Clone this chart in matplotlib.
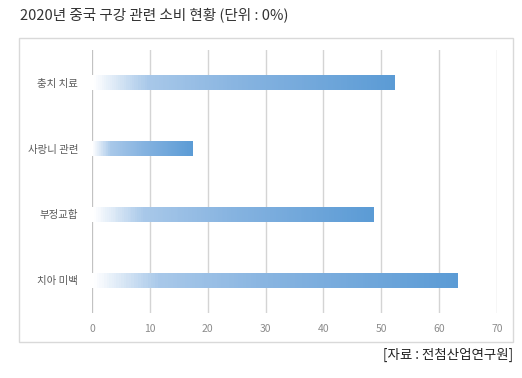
import numpy as np
import matplotlib.pyplot as plt
from matplotlib.colors import LinearSegmentedColormap
from matplotlib.patches import Rectangle

plt.rcParams['font.family'] = ['Noto Sans CJK KR', 'DejaVu Sans']

categories = ['충치 치료', '사랑니 관련', '부정교합', '치아 미백']
values = [52.4, 17.5, 48.7, 63.3]
xticks = [0, 10, 20, 30, 40, 50, 60, 70]

title = '2020년 중국 구강 관련 소비 현황 (단위 : 0%)'
source = '[자료 : 전첨산업연구원]'

fig = plt.figure(figsize=(5.22, 3.78), dpi=100)

# outer frame
fig.patches.append(Rectangle((19 / 522, 1 - 342 / 378), (513 - 19) / 522, (342 - 38) / 378,
                             transform=fig.transFigure, fill=False,
                             edgecolor='#d9d9d9', linewidth=1.0))

ax = fig.add_axes([92 / 522, 1 - 313 / 378, (497 - 92) / 522, (313 - 50) / 378])

cmap = LinearSegmentedColormap.from_list(
    'bar', [(0, '#ffffff'), (0.18, '#a8c8e9'), (0.5, '#86b3e0'), (1, '#5b9bd5')])

# gradient bars built from thin slices
h = 0.23
n = 150
t = np.linspace(0, 1, n)
for i, v in enumerate(values):
    w = v / n
    ax.barh(np.full(n, i), np.full(n, w * 1.05), left=t * (v - w), height=h,
            color=cmap(t), linewidth=0, zorder=3)

ax.set_xlim(0, 70)
ax.set_ylim(3.5, -0.5)
ax.set_xticks(xticks)
ax.set_yticks(range(len(categories)))
ax.set_yticklabels(categories)
ax.set_axisbelow(True)
ax.grid(axis='x', color='#d4d4d4', linewidth=1.0)
ax.axvline(0, color='#bfbfbf', linewidth=1.2, zorder=2)
for s in ax.spines.values():
    s.set_visible(False)
ax.tick_params(axis='both', length=0)
ax.tick_params(axis='x', labelsize=7.5, labelcolor='#8c8c8c', pad=8)
ax.tick_params(axis='y', labelsize=7.5, labelcolor='#595959', pad=10)

fig.text(20 / 522, 1 - 15 / 378, title, fontsize=10.5, color='#333333',
         ha='left', va='center')
fig.text(513 / 522, 1 - 355 / 378, source, fontsize=9.7, color='#222222',
         ha='right', va='center')

fig.savefig('out.png', dpi=100)
